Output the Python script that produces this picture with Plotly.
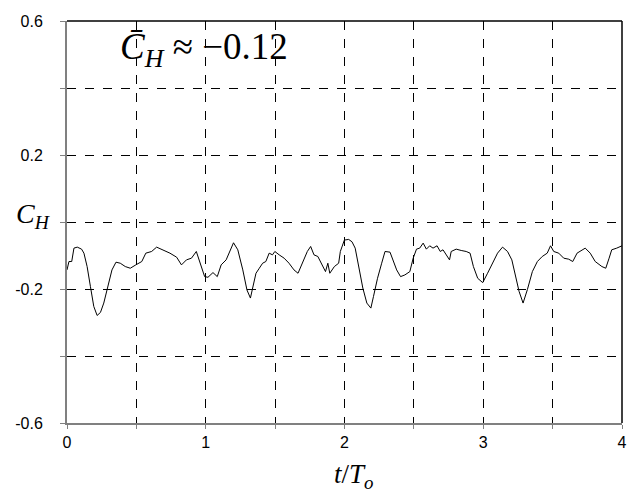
import plotly.graph_objects as go

t_over_T = [0.0, 0.014, 0.034, 0.05, 0.074, 0.09, 0.105, 0.122, 0.145, 0.169, 0.193, 0.217, 0.241,
            0.265, 0.30, 0.324, 0.353, 0.384, 0.42, 0.456, 0.496, 0.539, 0.568, 0.61, 0.646, 0.694,
            0.742, 0.79, 0.825, 0.861, 0.897, 0.932, 0.957, 0.992, 1.016, 1.052, 1.083, 1.111, 1.147,
            1.171, 1.2, 1.231, 1.267, 1.297, 1.322, 1.338, 1.362, 1.386, 1.41, 1.433, 1.457, 1.481,
            1.498, 1.529, 1.565, 1.6, 1.636, 1.665, 1.696, 1.732, 1.756, 1.78, 1.808, 1.832, 1.863,
            1.88, 1.894, 1.927, 1.958, 1.97, 1.999, 2.03, 2.054, 2.077, 2.101, 2.132, 2.161, 2.19,
            2.209, 2.238, 2.268, 2.292, 2.328, 2.352, 2.376, 2.404, 2.435, 2.471, 2.495, 2.519, 2.542,
            2.567, 2.59, 2.614, 2.638, 2.667, 2.69, 2.71, 2.733, 2.757, 2.769, 2.805, 2.841, 2.877,
            2.905, 2.929, 2.96, 2.996, 3.031, 3.067, 3.103, 3.139, 3.175, 3.206, 3.235, 3.258, 3.287,
            3.318, 3.354, 3.39, 3.425, 3.461, 3.485, 3.508, 3.544, 3.58, 3.616, 3.645, 3.676, 3.735,
            3.771, 3.807, 3.855, 3.883, 3.907, 3.926, 3.962, 3.993, 4.0]
c_h = [-0.143, -0.118, -0.118, -0.078, -0.075, -0.078, -0.081, -0.093, -0.133, -0.193, -0.252, -0.279,
       -0.270, -0.242, -0.178, -0.143, -0.120, -0.123, -0.133, -0.138, -0.128, -0.118, -0.093, -0.088,
       -0.075, -0.083, -0.093, -0.105, -0.128, -0.113, -0.108, -0.088, -0.118, -0.163, -0.165, -0.151,
       -0.163, -0.128, -0.113, -0.088, -0.062, -0.083, -0.143, -0.203, -0.227, -0.197, -0.153, -0.138,
       -0.123, -0.118, -0.093, -0.098, -0.088, -0.098, -0.108, -0.123, -0.143, -0.153, -0.123, -0.088,
       -0.073, -0.098, -0.103, -0.123, -0.148, -0.123, -0.153, -0.133, -0.123, -0.088, -0.054, -0.052,
       -0.059, -0.078, -0.133, -0.197, -0.242, -0.257, -0.222, -0.168, -0.123, -0.088, -0.090, -0.118,
       -0.143, -0.163, -0.158, -0.148, -0.108, -0.081, -0.078, -0.063, -0.081, -0.071, -0.078, -0.071,
       -0.088, -0.083, -0.098, -0.113, -0.088, -0.081, -0.085, -0.088, -0.093, -0.133, -0.168, -0.181,
       -0.153, -0.123, -0.093, -0.075, -0.088, -0.113, -0.168, -0.207, -0.242, -0.202, -0.148, -0.118,
       -0.103, -0.093, -0.071, -0.088, -0.093, -0.108, -0.111, -0.118, -0.093, -0.078, -0.093, -0.118,
       -0.133, -0.138, -0.108, -0.083, -0.078, -0.071, -0.071]

x_tickvals = [0, 0.5, 1, 1.5, 2, 2.5, 3, 3.5, 4]
x_ticktext = ["0", "", "1", "", "2", "", "3", "", "4"]
y_tickvals = [-0.6, -0.4, -0.2, 0.0, 0.2, 0.4, 0.6]
y_ticktext = ["-0.6", "", "-0.2", "", "0.2", "", "0.6"]

SERIF = "Liberation Serif, Times New Roman, serif"
SANS = "Liberation Sans, Arial, sans-serif"

W, H = 637, 498
ML, MR, MT, MB = 67, 10, 21, 75
pw, ph = W - ML - MR, H - MT - MB


def px(x):
    return (x - ML) / pw


def py(y):
    return (H - MB - y) / ph


fig = go.Figure()
fig.add_trace(go.Scatter(x=t_over_T, y=c_h, mode="lines",
                         line=dict(color="black", width=1), showlegend=False))

fig.update_layout(
    width=W, height=H,
    margin=dict(l=ML, r=MR, t=MT, b=MB),
    paper_bgcolor="white", plot_bgcolor="white",
    xaxis=dict(range=[0, 4], tickvals=x_tickvals, ticktext=x_ticktext,
               showgrid=True, gridcolor="black", gridwidth=1, griddash="dash",
               zeroline=False, showline=True, linecolor="#808080", linewidth=2,
               ticks="outside", ticklen=4, tickcolor="#808080",
               tickfont=dict(family=SANS, size=16, color="black")),
    yaxis=dict(range=[-0.6, 0.6], tickvals=y_tickvals, ticktext=y_ticktext,
               showgrid=True, gridcolor="black", gridwidth=1, griddash="dash",
               zeroline=False, showline=True, linecolor="#808080", linewidth=2,
               ticks="outside", ticklen=5, tickcolor="#808080", ticklabelstandoff=14,
               tickfont=dict(family=SANS, size=16, color="black")),
    shapes=[
        dict(type="line", xref="paper", yref="paper", x0=0, x1=1, y0=1, y1=1,
             line=dict(color="black", width=1.5)),
        dict(type="line", xref="paper", yref="paper", x0=1, x1=1, y0=0, y1=1,
             line=dict(color="black", width=1.5)),
    ],
    annotations=[
        dict(text="<i>C\u0304</i><sub><i>H</i></sub> \u2248 \u22120.12",
             x=px(118), y=py(50), xref="paper", yref="paper", showarrow=False,
             font=dict(family=SERIF, size=37, color="black"),
             xanchor="left", yanchor="middle"),
        dict(text="<i>C</i><sub><i>H</i></sub>", x=px(33), y=py(215),
             xref="paper", yref="paper", showarrow=False,
             font=dict(family=SERIF, size=28, color="black"),
             xanchor="center", yanchor="middle"),
        dict(text="<i>t</i>/<i>T</i><sub><i>o</i></sub>", x=px(357), y=py(476),
             xref="paper", yref="paper", showarrow=False,
             font=dict(family=SERIF, size=27, color="black"),
             xanchor="center", yanchor="middle"),
    ],
)

fig.write_html("out.html", config={"displayModeBar": False},
               post_script="document.body.style.margin='0';")
